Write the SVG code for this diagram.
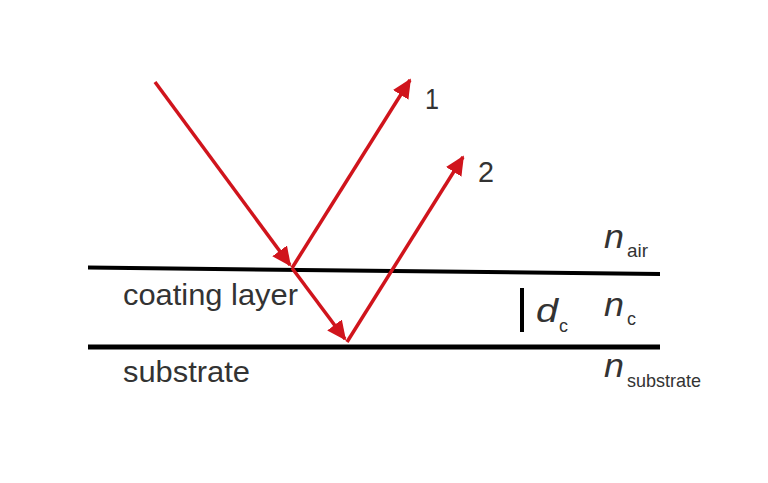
<svg xmlns="http://www.w3.org/2000/svg" width="768" height="483" viewBox="0 0 768 483">
<style>
.t{font-family:"Liberation Sans",Arial,sans-serif;fill:#333;font-size:29px}
.i{font-style:italic;font-size:34px}
.s{font-size:19px}
.ray{stroke:#d0141c;stroke-width:3.5;fill:none;marker-end:url(#ah)}
</style>
<defs>
<marker id="ah" markerWidth="6" markerHeight="6" refX="5" refY="3" orient="auto" markerUnits="strokeWidth">
<path d="M0,0.4 L5.5,3 L0,5.6 Z" fill="#d0141c"/>
</marker>
</defs>
<rect width="768" height="483" fill="#fff"/>
<g id="interfaces">
<line x1="88" y1="267.5" x2="660" y2="274" stroke="#000" stroke-width="4"/>
<line x1="88" y1="347" x2="660" y2="347" stroke="#000" stroke-width="5"/>
<line x1="522" y1="288" x2="522" y2="332" stroke="#000" stroke-width="4"/>
</g>
<g id="connectors">
<line class="ray" x1="155" y1="82" x2="290" y2="265"/>
<line class="ray" x1="292" y1="268" x2="410" y2="80"/>
<line class="ray" x1="292" y1="268" x2="345" y2="339"/>
<line class="ray" x1="347" y1="342" x2="463" y2="157"/>
</g>
<g id="labels">
<text class="t" x="425" y="109" textLength="14" lengthAdjust="spacingAndGlyphs">1</text>
<text class="t" x="478" y="182" textLength="16" lengthAdjust="spacingAndGlyphs">2</text>
<text class="t" x="123" y="305" textLength="175" lengthAdjust="spacingAndGlyphs">coating layer</text>
<text class="t" x="123" y="382" textLength="127" lengthAdjust="spacingAndGlyphs">substrate</text>
<text class="t i" x="604" y="248" textLength="20" lengthAdjust="spacingAndGlyphs">n</text><text class="t s" x="627" y="257" textLength="21" lengthAdjust="spacingAndGlyphs">air</text>
<text class="t i" x="536" y="322" textLength="22" lengthAdjust="spacingAndGlyphs">d</text><text class="t s" x="559" y="332" textLength="9" lengthAdjust="spacingAndGlyphs">c</text>
<text class="t i" x="604" y="316" textLength="20" lengthAdjust="spacingAndGlyphs">n</text><text class="t s" x="627" y="325" textLength="9" lengthAdjust="spacingAndGlyphs">c</text>
<text class="t i" x="604" y="377" textLength="20" lengthAdjust="spacingAndGlyphs">n</text><text class="t s" x="627" y="387" textLength="74" lengthAdjust="spacingAndGlyphs">substrate</text>
</g>
</svg>
